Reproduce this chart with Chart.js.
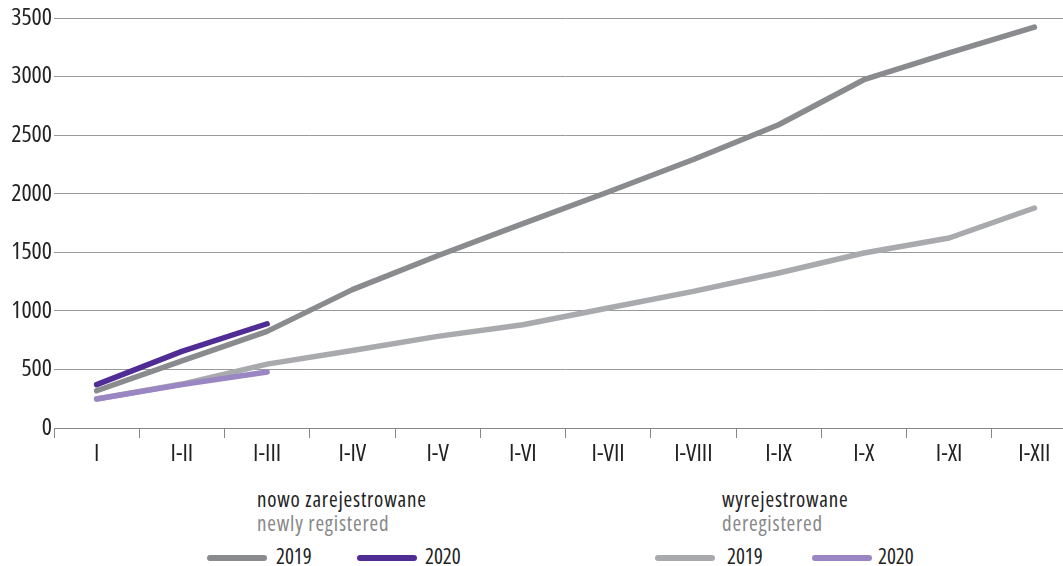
<!DOCTYPE html>
<html>
<head>
<meta charset="utf-8">
<script src="https://cdn.jsdelivr.net/npm/chart.js@4.4.1/dist/chart.umd.min.js"></script>
<style>
  html, body { margin: 0; padding: 0; background: #fff; overflow: hidden; width: 1063px; height: 566px; }
  #wrap { position: absolute; left: 0; top: 0; width: 1077px; height: 470px; }
  .lg { position: absolute; font-family: "Open Sans", sans-serif; font-stretch: 75%; font-size: 21px; color: #222; white-space: nowrap; line-height: 1; letter-spacing: 0.8px; }
  .yr { letter-spacing: 0; }
  .sub { color: #888; }
  .ln { position: absolute; height: 6px; border-radius: 3px; }
</style>
</head>
<body>
<div id="wrap"><canvas id="c"></canvas></div>
<div id="legend"></div>
<script>
const categories = ["I", "I-II", "I-III", "I-IV", "I-V", "I-VI", "I-VII", "I-VIII", "I-IX", "I-X", "I-XI", "I-XII"];
const newly2019 = [318, 573, 825, 1181, 1471, 1745, 2015, 2292, 2589, 2973, 3202, 3423];
const newly2020 = [370, 654, 890];
const dereg2019 = [248, 375, 545, 661, 782, 882, 1024, 1166, 1323, 1494, 1622, 1878];
const dereg2020 = [248, 370, 478];
const yTicks = [0, 500, 1000, 1500, 2000, 2500, 3000, 3500];
const groupTitles = ["nowo zarejestrowane", "wyrejestrowane"];
const groupSubtitles = ["newly registered", "deregistered"];
const seriesYears = ["2019", "2020"];

const colors = { n19: "#8a8b8e", n20: "#4f2d94", d19: "#a9aaad", d20: "#9a86c2" };
const FONT = "'Open Sans', sans-serif";
const TICKFONT = { family: FONT, size: 24, weight: "condensed 400" };

function ds(label, data, color, order) {
  return { label, data, borderColor: color, backgroundColor: color, borderWidth: 5.5,
    pointRadius: 0, pointHoverRadius: 0, tension: 0, borderCapStyle: "round", borderJoinStyle: "round",
    fill: false, order };
}

new Chart(document.getElementById("c"), {
  type: "line",
  data: {
    labels: categories,
    datasets: [
      ds("nowo zarejestrowane 2019", newly2019, colors.n19, 4),
      ds("wyrejestrowane 2019", dereg2019, colors.d19, 3),
      ds("nowo zarejestrowane 2020", newly2020, colors.n20, 2),
      ds("wyrejestrowane 2020", dereg2020, colors.d20, 1)
    ]
  },
  options: {
    responsive: true,
    maintainAspectRatio: false,
    animation: false,
    layout: { padding: { top: 18, right: 0, left: 0, bottom: 0 } },
    plugins: { legend: { display: false }, tooltip: { enabled: false } },
    scales: {
      x: {
        offset: true,
        grid: { offset: true, drawOnChartArea: false, drawTicks: true, tickLength: 10, color: "#888", lineWidth: 1 },
        border: { display: true, color: "#888", width: 1 },
        ticks: { color: "#222", font: TICKFONT, padding: 2, maxRotation: 0, autoSkip: false },
        afterFit: (s) => { s.height = 42; }
      },
      y: {
        min: 0, max: 3500,
        afterBuildTicks: (s) => { s.ticks = yTicks.map(v => ({ value: v })); },
        grid: { drawTicks: false, color: "#999", lineWidth: 1 },
        border: { display: false },
        ticks: { color: "#222", font: TICKFONT, padding: 2, callback: (v) => String(v) },
        afterFit: (s) => { s.width = 54; }
      }
    }
  }
});

// HTML legend
const legend = document.getElementById("legend");
function addText(txt, x, y, cls) {
  const d = document.createElement("div");
  d.className = "lg" + (cls ? " " + cls : "");
  d.textContent = txt; d.style.left = x + "px"; d.style.top = y + "px";
  legend.appendChild(d);
}
function addLine(x, y, w, color) {
  const d = document.createElement("div");
  d.className = "ln"; d.style.left = x + "px"; d.style.top = y + "px"; d.style.width = w + "px"; d.style.background = color;
  legend.appendChild(d);
}
const groups = [
  { tx: 257, l1: 207, t1: 276, l2: 357, t2: 425, c1: colors.n19, c2: colors.n20 },
  { tx: 722, l1: 655, t1: 727, l2: 812, t2: 878, c1: colors.d19, c2: colors.d20 }
];
groups.forEach((g, i) => {
  addText(groupTitles[i], g.tx, 489, "");
  addText(groupSubtitles[i], g.tx, 513, "sub");
  addLine(g.l1, 555, 60, g.c1);
  addText(seriesYears[0], g.t1, 546, "yr");
  addLine(g.l2, 555, 60, g.c2);
  addText(seriesYears[1], g.t2, 546, "yr");
});
</script>
</body>
</html>
